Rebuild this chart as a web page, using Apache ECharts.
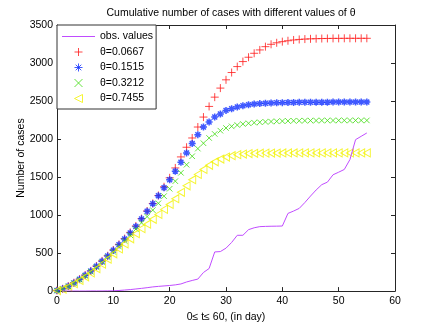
<!DOCTYPE html>
<html>
<head>
<meta charset="utf-8">
<script src="https://cdn.jsdelivr.net/npm/echarts@6/dist/echarts.min.js"></script>
<style>
  html, body { margin: 0; padding: 0; background: #fff; }
  #chart { width: 436px; height: 328px; }
</style>
</head>
<body>
<div id="chart"></div>
<script>
const days = [0, 1, 2, 3, 4, 5, 6, 7, 8, 9, 10, 11, 12, 13, 14, 15, 16, 17, 18, 19,
    20, 21, 22, 23, 24, 25, 26, 27, 28, 29, 30, 31, 32, 33, 34, 35, 36, 37, 38, 39,
    40, 41, 42, 43, 44, 45, 46, 47, 48, 49, 50, 51, 52, 53, 54, 55];

// model curves, one value per day (0..55)
const theta0667 = [8, 30, 65, 110, 157, 210, 266, 330, 397, 465, 541, 615, 690, 772, 856, 953, 1053, 1153, 1258, 1372,
    1490, 1620, 1765, 1892, 2014, 2158, 2289, 2429, 2551, 2670, 2779, 2875, 2953, 3019, 3076, 3128, 3172, 3215, 3246, 3266,
    3281, 3293, 3303, 3310, 3315, 3318, 3320, 3322, 3323, 3324, 3324, 3325, 3325, 3325, 3325, 3325];
const theta1515 = [8, 30, 65, 108, 155, 208, 264, 327, 393, 462, 537, 610, 685, 765, 850, 950, 1050, 1150, 1255, 1359,
    1465, 1577, 1695, 1818, 1940, 2058, 2158, 2224, 2290, 2329, 2377, 2399, 2421, 2438, 2451, 2460, 2466, 2471, 2474, 2477,
    2479, 2481, 2482, 2483, 2484, 2484, 2485, 2485, 2485, 2486, 2486, 2486, 2486, 2486, 2486, 2486];
const theta3212 = [6, 28, 62, 104, 150, 200, 255, 315, 378, 445, 515, 585, 660, 735, 815, 898, 980, 1065, 1155, 1249,
    1346, 1446, 1556, 1662, 1774, 1874, 1945, 2014, 2067, 2110, 2145, 2167, 2184, 2198, 2207, 2215, 2221, 2226, 2230, 2233,
    2236, 2238, 2240, 2241, 2242, 2243, 2243, 2244, 2244, 2244, 2245, 2245, 2245, 2245, 2245, 2245];
const theta7455 = [5, 25, 58, 97, 140, 188, 240, 295, 355, 420, 490, 555, 620, 688, 755, 822, 880, 944, 1009, 1075,
    1140, 1215, 1300, 1385, 1465, 1535, 1600, 1655, 1700, 1737, 1763, 1781, 1795, 1803, 1809, 1812, 1814, 1815, 1816, 1816,
    1817, 1817, 1817, 1818, 1818, 1818, 1818, 1818, 1818, 1818, 1818, 1818, 1818, 1818, 1818, 1818];

// observed cumulative cases, days 1..55
const obsDays = days.slice(1);
const observed = [1, 1, 1, 1, 1, 2, 2, 2, 3, 4, 8, 14, 20, 28, 36, 45, 55, 62, 68, 74,
    82, 94, 120, 140, 158, 245, 297, 515, 520, 565, 640, 734, 734, 808, 833, 848, 851, 853, 854, 856,
    1022, 1053, 1088, 1165, 1250, 1330, 1400, 1433, 1530, 1564, 1600, 1730, 1992, 2036, 2080];

const SYM_PLUS = 'path://M0,5L10,5M5,0L5,10';
const SYM_STAR = 'path://M0,5L10,5M5,0L5,10M1.5,1.5L8.5,8.5M8.5,1.5L1.5,8.5';
const SYM_X = 'path://M0,0L10,10M10,0L0,10';
const SYM_TRI = 'path://M0,5L10,0L10,10Z';
const ICON_LINE = 'path://M0,0L34,0L34,1L0,1Z';

const FONT = '"Liberation Sans", Arial, sans-serif';
const AXIS = '#262626';
const OBS_COLOR = '#c04cff';

const pairs = (xs, ys) => xs.map((x, i) => [x, ys[i]]);

function markerSeries(name, values, symbol, size, color, width) {
    return {
        name,
        type: 'scatter',
        data: pairs(days, values),
        symbol,
        symbolSize: size,
        itemStyle: { color: 'transparent', borderColor: color, borderWidth: width },
        emphasis: { disabled: true },
    };
}

const chart = echarts.init(document.getElementById('chart'), null, { renderer: 'canvas' });

const baseX = {
    type: 'value', min: 0, max: 60, interval: 10,
    axisLine: { show: true, onZero: false, lineStyle: { color: AXIS, width: 1 } },
    axisTick: { show: true, inside: true, length: 4, lineStyle: { color: AXIS } },
    splitLine: { show: false },
};
const baseY = {
    type: 'value', min: 0, max: 3500, interval: 500,
    axisLine: { show: true, onZero: false, lineStyle: { color: AXIS, width: 1 } },
    axisTick: { show: true, inside: true, length: 4, lineStyle: { color: AXIS } },
    splitLine: { show: false },
};

chart.setOption({
    animation: false,
    backgroundColor: '#fff',
    title: {
        text: 'Cumulative number of cases with different values of θ',
        left: 226, top: 3, textAlign: 'center',
        textStyle: { fontFamily: FONT, fontSize: 10.5, fontWeight: 'normal', color: '#000' },
    },
    grid: { left: 57, right: 41, top: 25, bottom: 36 },
    legend: {
        orient: 'vertical',
        left: 57, top: 25,
        padding: [6, 3, 5, 5],
        itemWidth: 33, itemHeight: 8, itemGap: 4.5,
        backgroundColor: '#fff',
        borderColor: '#333', borderWidth: 1,
        itemStyle: { borderWidth: 1 },
        textStyle: { fontFamily: FONT, fontSize: 10.5, color: '#000' },
        data: [
            { name: 'obs. values', icon: ICON_LINE },
            'θ=0.0667', 'θ=0.1515', 'θ=0.3212', 'θ=0.7455',
        ],
    },
    xAxis: [
        Object.assign({}, baseX, {
            position: 'bottom',
            name: '0≤ t≤ 60, (in day)', nameLocation: 'middle', nameGap: 15,
            nameTextStyle: { fontFamily: FONT, fontSize: 10.5, color: '#000' },
            axisLabel: { fontFamily: FONT, fontSize: 10.5, color: '#000', margin: 5 },
        }),
        Object.assign({}, baseX, { position: 'top', axisLabel: { show: false } }),
    ],
    yAxis: [
        Object.assign({}, baseY, {
            position: 'left',
            name: 'Number of cases', nameLocation: 'middle', nameGap: 30,
            nameMoveOverlap: false,
            nameTextStyle: { fontFamily: FONT, fontSize: 10.5, color: '#000' },
            axisLabel: { fontFamily: FONT, fontSize: 10.5, color: '#000', margin: 4, formatter: v => String(v) },
        }),
        Object.assign({}, baseY, { position: 'right', axisLabel: { show: false } }),
    ],
    series: [
        {
            name: 'obs. values',
            type: 'line',
            data: pairs(obsDays, observed),
            symbol: 'none',
            lineStyle: { color: OBS_COLOR, width: 1 },
            itemStyle: { color: OBS_COLOR },
            emphasis: { disabled: true },
        },
        markerSeries('θ=0.0667', theta0667, SYM_PLUS, 8, '#ff1a1a', 1),
        markerSeries('θ=0.1515', theta1515, SYM_STAR, 7, '#1030ff', 1.5),
        markerSeries('θ=0.3212', theta3212, SYM_X, 5.5, '#40dc10', 1),
        markerSeries('θ=0.7455', theta7455, SYM_TRI, [7, 8], '#f2f200', 1),
    ],
});
</script>
</body>
</html>
